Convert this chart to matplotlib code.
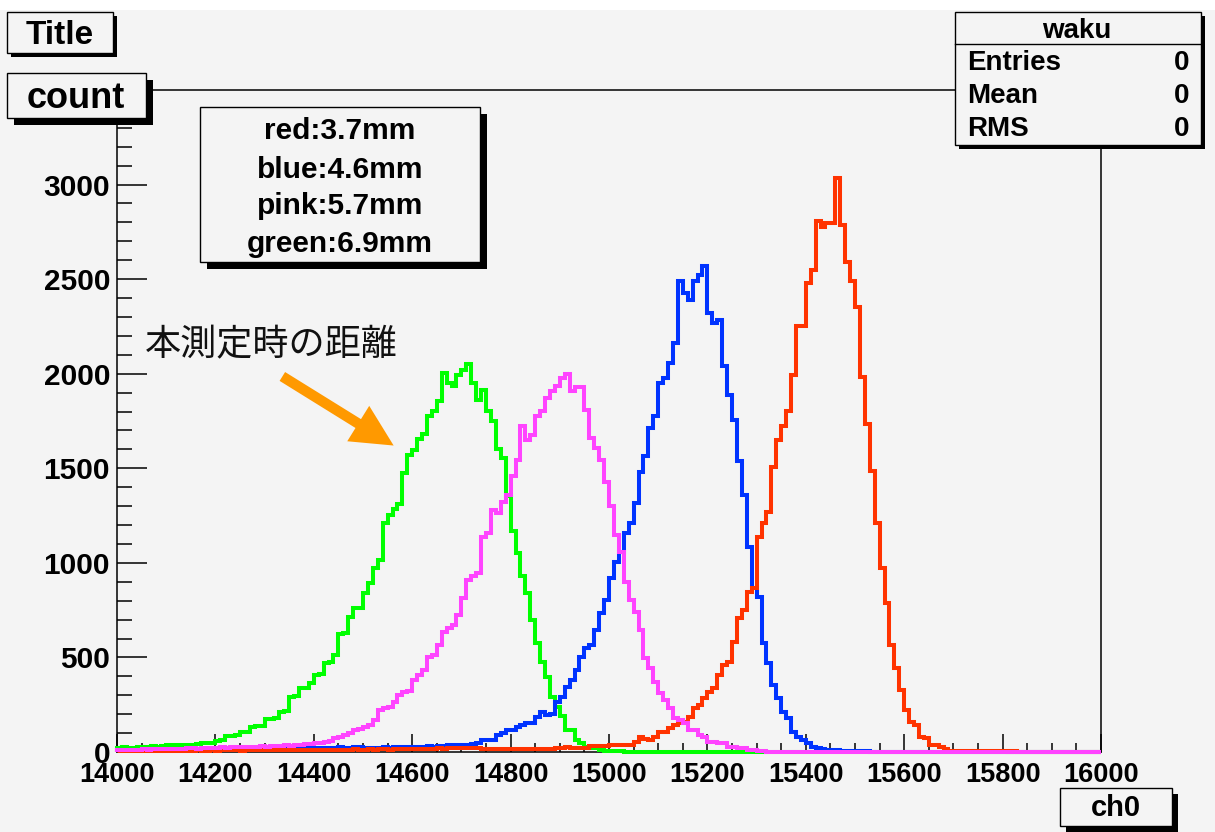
import numpy as np
import matplotlib.pyplot as plt
from matplotlib.patches import Rectangle, FancyArrowPatch

plt.rcParams['font.family'] = ['Liberation Sans', 'DejaVu Sans']
plt.rcParams['font.weight'] = 'bold'

# canvas size in pixels (dpi 100)
W, H = 1215, 832
BG = '#f4f4f4'

# histogram binning: 200 bins of width 10 from 14000 to 16000
edges = np.arange(14000, 16001, 10)

green = [22, 24, 23, 21, 25, 28, 27, 30, 29, 31, 36, 38, 35, 37, 39, 38, 40, 46, 45, 48,
         58, 62, 84, 86, 88, 104, 106, 132, 135, 138, 172, 176, 178, 213, 215, 293, 296, 337, 340, 363,
         407, 410, 473, 476, 513, 624, 628, 716, 760, 762, 843, 892, 972, 1016, 1210, 1254, 1284, 1312, 1474, 1571,
         1598, 1654, 1683, 1774, 1801, 1854, 2003, 1951, 1933, 1995, 2018, 2053, 1951, 1862, 1915, 1804, 1748, 1601, 1554, 1351,
         1166, 1051, 928, 840, 698, 575, 478, 399, 290, 240, 190, 116, 116, 63, 46, 28, 19, 19, 10, 5,
         4, 3, 3, 2, 2, 1, 1, 1, 0, 0, 0, 0, 0, 0, 0, 0, 0, 0, 0, 0,
         0, 0, 0, 0, 0, 0, 0, 0, 0, 0, 0, 0, 0, 0, 0, 0, 0, 0, 0, 0,
         0, 0, 0, 0, 0, 0, 0, 0, 0, 0, 0, 0, 0, 0, 0, 0, 0, 0, 0, 0,
         0, 0, 0, 0, 0, 0, 0, 0, 0, 0, 0, 0, 0, 0, 0, 0, 0, 0, 0, 0,
         0, 0, 0, 0, 0, 0, 0, 0, 0, 0, 0, 0, 0, 0, 0, 0, 0, 0, 0, 0]

pink = [10, 12, 11, 13, 12, 14, 13, 15, 14, 16, 15, 17, 18, 16, 19, 20, 18, 21, 22, 20,
        22, 24, 23, 25, 27, 26, 28, 27, 29, 30, 28, 31, 33, 30, 35, 34, 38, 36, 40, 42,
        46, 48, 55, 58, 72, 81, 90, 99, 116, 120, 134, 143, 169, 222, 231, 240, 266, 302, 319, 325,
        381, 407, 434, 504, 513, 566, 637, 654, 672, 725, 813, 910, 928, 945, 1135, 1157, 1280, 1263, 1324, 1360,
        1457, 1545, 1721, 1651, 1677, 1774, 1801, 1871, 1907, 1933, 1977, 2000, 1907, 1930, 1930, 1810, 1660, 1607, 1545, 1430,
        1298, 1148, 1060, 901, 804, 742, 645, 495, 443, 372, 310, 275, 231, 178, 169, 152, 116, 116, 90, 81,
        55, 55, 46, 46, 28, 28, 19, 19, 12, 8, 5, 3, 2, 1, 0, 0, 0, 0, 0, 0,
        0, 0, 0, 0, 0, 0, 0, 0, 0, 0, 0, 0, 0, 0, 0, 0, 0, 0, 0, 0,
        0, 0, 0, 0, 0, 0, 0, 0, 0, 0, 0, 0, 0, 0, 0, 0, 0, 0, 0, 0,
        0, 0, 0, 0, 0, 0, 0, 0, 0, 0, 0, 0, 0, 0, 0, 0, 0, 0, 0, 0]

blue = [8, 9, 10, 9, 11, 10, 12, 11, 10, 12, 11, 13, 12, 14, 12, 13, 15, 14, 13, 15,
        14, 16, 15, 17, 16, 15, 18, 17, 16, 18, 17, 19, 18, 20, 19, 21, 20, 19, 22, 21,
        20, 22, 21, 23, 22, 24, 23, 22, 25, 24, 19, 21, 23, 22, 24, 23, 25, 27, 26, 28,
        27, 29, 28, 30, 29, 34, 33, 35, 37, 36, 38, 37, 40, 45, 63, 63, 63, 90, 99, 116,
        116, 134, 143, 152, 152, 187, 213, 196, 200, 266, 293, 346, 381, 434, 504, 548, 566, 645, 734, 804,
        919, 1007, 1060, 1157, 1210, 1316, 1483, 1563, 1712, 1774, 1951, 1978, 2056, 2162, 2488, 2428, 2392, 2488, 2524, 2568,
        2321, 2268, 2286, 2039, 1889, 1757, 1536, 1360, 1086, 868, 822, 575, 469, 354, 284, 213, 178, 108, 81, 63,
        46, 28, 19, 14, 12, 10, 8, 6, 5, 4, 4, 3, 3, 2, 2, 2, 1, 1, 1, 1,
        0, 1, 0, 0, 1, 0, 0, 0, 0, 0, 0, 0, 0, 0, 0, 0, 0, 0, 0, 0,
        0, 0, 0, 0, 0, 0, 0, 0, 0, 0, 0, 0, 0, 0, 0, 0, 0, 0, 0, 0]

red = [3, 4, 3, 5, 4, 4, 5, 6, 5, 5, 6, 5, 7, 6, 6, 7, 8, 7, 6, 8,
       7, 8, 8, 9, 8, 7, 9, 10, 9, 8, 9, 10, 9, 11, 10, 10, 11, 12, 10, 11,
       12, 11, 12, 13, 11, 12, 13, 12, 14, 13, 12, 14, 13, 14, 15, 13, 14, 15, 16, 14,
       15, 16, 17, 16, 18, 19, 18, 20, 19, 21, 19, 20, 21, 20, 16, 17, 16, 18, 17, 16,
       17, 16, 18, 16, 17, 16, 18, 17, 16, 23, 23, 24, 22, 23, 23, 23, 32, 33, 31, 32,
       37, 36, 38, 37, 37, 55, 78, 70, 63, 80, 108, 108, 125, 143, 155, 160, 187, 231, 249, 284,
       319, 337, 407, 460, 478, 584, 707, 751, 848, 866, 1139, 1210, 1270, 1508, 1647, 1726, 1805, 1994, 2252, 2252,
       2480, 2550, 2807, 2778, 2797, 2797, 3035, 2788, 2589, 2490, 2351, 1984, 1736, 1488, 1210, 971, 786, 566, 443, 328,
       222, 160, 143, 81, 72, 37, 37, 28, 14, 7, 7, 7, 6, 5, 4, 4, 4, 3, 3, 4,
       3, 2, 3, 2, 2, 1, 2, 1, 1, 1, 1, 1, 0, 1, 0, 0, 1, 0, 0, 0]

legend_lines = ["red:3.7mm", "blue:4.6mm", "pink:5.7mm", "green:6.9mm"]
stats_title = "waku"
stats_rows = [("Entries", "0"), ("Mean", "0"), ("RMS", "0")]
x_ticks = list(range(14000, 16001, 200))
y_ticks = list(range(0, 3001, 500))


def fx(x):
    return x / W


def fy(y):
    return 1 - y / H


def box(x0, y0, x1, y1, sh):
    # ROOT-style pave: black shadow offset to lower right, then the box itself
    fig.add_artist(Rectangle((fx(x0 + sh), fy(y1 + sh)), (x1 - x0) / W, (y1 - y0) / H,
                             transform=fig.transFigure, facecolor='black', edgecolor='none', zorder=5))
    fig.add_artist(Rectangle((fx(x0), fy(y1)), (x1 - x0) / W, (y1 - y0) / H,
                             transform=fig.transFigure, facecolor=BG, edgecolor='black', lw=1.0, zorder=6))


def label(x, y, s, size, ha='center', **kw):
    fig.text(fx(x), fy(y), s, ha=ha, va='center', fontsize=size, fontweight='bold', zorder=7, **kw)


fig = plt.figure(figsize=(W / 100, H / 100), dpi=100, facecolor=BG)
ax = fig.add_axes([fx(117), fy(752), (1101 - 117) / W, (752 - 90) / H])
ax.set_facecolor(BG)

for vals, col in [(green, '#00ff00'), (blue, '#0033ff'), (red, '#ff3300'), (pink, '#ff44ff')]:
    ax.stairs(vals, edges, color=col, lw=2.9, clip_on=False, zorder=3)

ax.set_xlim(14000, 16000)
ax.set_ylim(0, 3500)
ax.set_xticks(x_ticks)
ax.set_xticks(range(14000, 16001, 50), minor=True)
ax.set_yticks(y_ticks)
ax.set_yticks(range(0, 3501, 100), minor=True)
ax.tick_params(axis='x', which='major', direction='in', length=13, width=1.1, pad=7, labelsize=19.5)
ax.tick_params(axis='x', which='minor', direction='in', length=6.5, width=1.1)
ax.tick_params(axis='y', which='major', direction='in', length=21.5, width=1.1, pad=5, labelsize=21.5)
ax.tick_params(axis='y', which='minor', direction='in', length=10.8, width=1.1)
for t in ax.get_xticklabels() + ax.get_yticklabels():
    t.set_fontweight('bold')
for s in ax.spines.values():
    s.set_linewidth(1.1)

# white strip at the very top of the canvas
fig.add_artist(Rectangle((0, fy(10)), 1, 10 / H, transform=fig.transFigure,
                         facecolor='white', edgecolor='none', zorder=4))

# title and y-axis title boxes
box(7, 12, 113, 53, 4)
label(60, 35, "Title", 24)
box(7, 73, 146, 118, 7)
label(76, 98, "count", 26)

# text box with distances
box(200, 107, 480, 262, 7)
for yy, s in zip([131, 170, 206, 244], legend_lines):
    label(340, yy, s, 21.5)

# stats box
box(955, 12, 1201, 145, 4)
fig.add_artist(plt.Line2D([fx(955), fx(1201)], [fy(44), fy(44)], transform=fig.transFigure,
                          color='black', lw=1.0, zorder=7))
label(1077, 31, stats_title, 20)
for yy, (name, val) in zip([63, 96, 129], stats_rows):
    label(967, yy, name, 20, ha='left')
    label(1189, yy, val, 20, ha='right')

# x-axis title box
box(1060, 788, 1172, 826, 6)
label(1116, 808, "ch0", 21)

# annotation in Japanese with orange arrow
fig.text(fx(145), fy(345), "本測定時の距離", ha='left', va='center', fontsize=26,
         fontweight='normal', family=['Noto Sans CJK JP', 'DejaVu Sans'], color='#111111', zorder=7)
fig.add_artist(FancyArrowPatch((fx(280), fy(375)), (fx(396), fy(447)), transform=fig.transFigure,
                               arrowstyle='simple,head_width=3.0,head_length=3.0,tail_width=0.75',
                               mutation_scale=10, color='#ff9900', lw=0, zorder=7))

fig.savefig('out.png', dpi=100, facecolor=BG)
